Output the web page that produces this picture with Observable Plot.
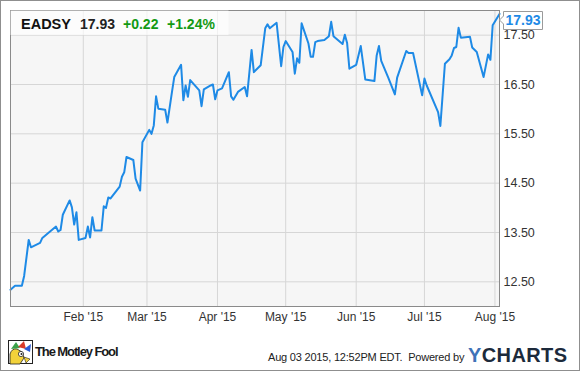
<!DOCTYPE html>
<html>
<head>
<meta charset="utf-8">
<script src="https://cdn.jsdelivr.net/npm/d3@7"></script>
<script src="https://cdn.jsdelivr.net/npm/@observablehq/plot@0.6"></script>
<style>
  html, body { margin: 0; padding: 0; background: #fff; }
  #wrap { position: relative; width: 580px; height: 371px; overflow: hidden; }
  #border { position: absolute; left: 0; top: 0; width: 580px; height: 371px; box-sizing: border-box; border: 1px solid #8f8f8f; pointer-events: none; }
</style>
</head>
<body>
<div id="wrap"><div id="chart"></div><div id="border"></div></div>
<script>
// ---- data ----
const ticker = "EADSY";
const lastPrice = "17.93";
const change = "+0.22";
const changePct = "+1.24%";
const timestamp = "Aug 03 2015, 12:52PM EDT.";

const dates = [
  "2014-12-31","2015-01-02","2015-01-05","2015-01-06","2015-01-08","2015-01-09","2015-01-13","2015-01-14",
  "2015-01-20","2015-01-21","2015-01-22","2015-01-23","2015-01-26","2015-01-27","2015-01-28","2015-01-29",
  "2015-01-30","2015-02-02","2015-02-03","2015-02-04","2015-02-05","2015-02-06","2015-02-09","2015-02-10",
  "2015-02-11","2015-02-12","2015-02-13","2015-02-17","2015-02-18","2015-02-19","2015-02-20","2015-02-23",
  "2015-02-24","2015-02-26","2015-02-27","2015-03-02","2015-03-03","2015-03-04","2015-03-05","2015-03-06",
  "2015-03-09","2015-03-10","2015-03-12","2015-03-13","2015-03-16","2015-03-17","2015-03-18","2015-03-19",
  "2015-03-20","2015-03-24","2015-03-25","2015-03-26","2015-03-29","2015-03-30","2015-03-31","2015-04-01",
  "2015-04-03","2015-04-06","2015-04-07","2015-04-08","2015-04-10","2015-04-13","2015-04-14","2015-04-16",
  "2015-04-17","2015-04-20","2015-04-22","2015-04-23","2015-04-24","2015-04-27","2015-04-29","2015-04-30",
  "2015-05-01","2015-05-04","2015-05-05","2015-05-06","2015-05-07","2015-05-08","2015-05-11","2015-05-12",
  "2015-05-13","2015-05-14","2015-05-15","2015-05-18","2015-05-20","2015-05-21","2015-05-22","2015-05-26",
  "2015-05-27","2015-05-28","2015-05-29","2015-06-01","2015-06-03","2015-06-05","2015-06-09","2015-06-10",
  "2015-06-11","2015-06-12","2015-06-15","2015-06-18","2015-06-19","2015-06-23","2015-06-24","2015-06-26",
  "2015-06-30","2015-07-01","2015-07-02","2015-07-07","2015-07-08","2015-07-10","2015-07-12","2015-07-13",
  "2015-07-14","2015-07-15","2015-07-16","2015-07-17","2015-07-21","2015-07-22","2015-07-24","2015-07-27",
  "2015-07-29","2015-07-30","2015-07-31","2015-08-03"
];
const prices = [
  12.34,12.42,12.42,12.62,13.35,13.20,13.29,13.39,
  13.62,13.52,13.55,13.86,14.15,14.01,13.66,13.91,
  13.35,13.39,13.62,13.40,13.81,13.54,13.54,14.03,
  14.00,14.21,14.19,14.43,14.63,14.72,15.03,14.97,
  14.59,14.35,15.33,15.58,15.50,15.67,16.26,16.01,
  15.99,15.73,16.35,16.65,16.90,16.18,16.48,16.25,
  16.59,16.38,16.06,16.40,16.48,16.50,16.20,16.38,
  16.42,16.75,16.26,16.19,16.35,16.45,16.26,17.20,
  16.75,16.89,17.64,17.72,17.64,17.75,16.87,17.26,
  17.38,17.16,16.72,17.03,16.94,17.74,17.33,17.06,
  17.06,17.36,17.38,17.40,17.48,17.77,17.48,17.32,
  17.51,17.34,16.82,16.90,17.28,16.60,16.57,17.09,
  17.28,16.98,16.65,16.30,16.64,17.18,17.14,17.14,
  16.28,16.62,16.48,15.94,15.66,16.92,17.01,17.09,
  17.24,17.26,17.65,17.45,17.47,17.25,17.16,16.65,
  17.11,17.00,17.70,17.93
];
const yTicks = [12.5, 13.5, 14.5, 15.5, 16.5, 17.5];
const monthTicks = ["2015-02-01","2015-03-01","2015-04-01","2015-05-01","2015-06-01","2015-07-01","2015-08-01"];
const xDomain = ["2014-12-31", "2015-08-03"];
const yDomain = [12.0, 18.0];

// ---- build ----
const data = dates.map((d, i) => ({date: new Date(d), price: prices[i]}));
const mTicks = monthTicks.map(d => new Date(d));
const FONT = "'Liberation Sans', Arial, sans-serif";
const BLUE = "#1e8ae6";

const chart = Plot.plot({
  width: 580,
  height: 371,
  marginLeft: 10,
  marginRight: 81,
  marginTop: 10,
  marginBottom: 65,
  style: {fontFamily: FONT, background: "transparent", color: "#333"},
  x: {type: "utc", domain: xDomain.map(d => new Date(d))},
  y: {domain: yDomain},
  marks: [
    Plot.frame({fill: "#f6f6f6", stroke: null}),
    Plot.gridX(mTicks, {stroke: "#d6d6d6", strokeOpacity: 1, strokeWidth: 1}),
    Plot.gridY(yTicks, {stroke: "#d6d6d6", strokeOpacity: 1, strokeWidth: 1}),
    Plot.line(data, {x: "date", y: "price", stroke: BLUE, strokeWidth: 2, strokeLinejoin: "round"}),
    Plot.frame({stroke: "#8a8a8a", strokeWidth: 1}),
    Plot.axisY(yTicks, {anchor: "right", tickSize: 0, tickPadding: 4, label: null,
      tickFormat: d => d.toFixed(2), fontSize: 12.5, fill: "#333"}),
    Plot.axisX(mTicks, {tickSize: 0, tickPadding: 6, label: null,
      tickFormat: d3.utcFormat("%b '%y"), fontSize: 12, fill: "#333"})
  ]
});
document.getElementById("chart").appendChild(chart);

const svg = d3.select(chart);
const sy = chart.scale("y");

// header box
const hdr = svg.append("g").attr("font-family", FONT).attr("text-anchor", "start");
hdr.append("rect").attr("x", 10.5).attr("y", 10.5).attr("width", 218).attr("height", 24.5)
  .attr("fill", "#fff").attr("fill-opacity", 0.65);
hdr.append("text").attr("x", 21).attr("y", 29).attr("font-size", 14.5).attr("font-weight", "bold")
  .attr("fill", "#111").text(ticker);
hdr.append("text").attr("x", 80).attr("y", 29).attr("font-size", 14).attr("font-weight", "bold")
  .attr("fill", "#222").text(lastPrice);
hdr.append("text").attr("x", 123).attr("y", 29).attr("font-size", 14).attr("font-weight", "bold")
  .attr("fill", "#139a13").text(change);
hdr.append("text").attr("x", 167).attr("y", 29).attr("font-size", 14).attr("font-weight", "bold")
  .attr("fill", "#139a13").text(changePct);

// last price tag
const last = data[data.length - 1];
const bh = 18, bx = 503, bw = 39;
const yc = Math.max(sy.apply(last.price), 10 + 1 + bh / 2);
const tag = svg.append("g").attr("font-family", FONT);
tag.append("path")
  .attr("d", `M${bx + 0.5},${yc - bh / 2 + 0.5} H${bx + bw + 0.5} V${yc + bh / 2 + 0.5} H${bx + 0.5} V${yc + 4} L${bx - 3.5},${yc} L${bx + 0.5},${yc - 4} Z`)
  .attr("fill", "#fff").attr("stroke", "#9a9a9a").attr("stroke-width", 1);
tag.append("text").attr("x", bx + bw / 2 + 0.5).attr("y", yc + 5).attr("text-anchor", "middle")
  .attr("font-size", 14).attr("font-weight", "bold").attr("fill", BLUE).text(lastPrice);

// footer
const ft = svg.append("g").attr("font-family", FONT).attr("text-anchor", "start");
// Motley Fool jester icon (simplified)
const logo = ft.append("g").attr("transform", "translate(8,340)");
logo.append("rect").attr("x", 0.5).attr("y", 0.5).attr("width", 24).attr("height", 23).attr("fill", "#fff").attr("stroke", "#222");
logo.append("path").attr("d", "M2,24 L2,14 Q4,8 9,9 L14,12 L16,18 L12,24 Z").attr("fill", "#f2d23a").attr("stroke", "#222").attr("stroke-width", 0.8);
logo.append("path").attr("d", "M3,9 L8,2 L12,8 Z").attr("fill", "#3aa14a");
logo.append("path").attr("d", "M10,7 L16,1 L18,9 Z").attr("fill", "#d63a2a");
logo.append("path").attr("d", "M16,9 L23,4 L22,12 Z").attr("fill", "#2a5bd6");
logo.append("circle").attr("cx", 13).attr("cy", 14).attr("r", 2.6).attr("fill", "#fff").attr("stroke", "#222").attr("stroke-width", 0.8);
logo.append("circle").attr("cx", 13.5).attr("cy", 14).attr("r", 1).attr("fill", "#222");
logo.append("path").attr("d", "M16,17 L22,19 L18,23 Z").attr("fill", "#f2d23a").attr("stroke", "#222").attr("stroke-width", 0.6);
ft.append("text").attr("x", 35).attr("y", 356).attr("font-size", 13).attr("font-weight", "bold")
  .attr("letter-spacing", -1.1).attr("fill", "#1a1a1a").text("The Motley Fool");
ft.append("text").attr("x", 268).attr("y", 361).attr("font-size", 11).attr("fill", "#222")
  .attr("letter-spacing", -0.2).text(timestamp + "\u00a0 Powered by");
const yc2 = ft.append("text").attr("x", 468).attr("y", 362).attr("font-size", 20).attr("font-weight", "bold")
  .attr("letter-spacing", 0.4);
yc2.append("tspan").attr("fill", "#3f73b8").text("Y");
yc2.append("tspan").attr("fill", "#1c2a3b").text("CHARTS");
</script>
</body>
</html>
